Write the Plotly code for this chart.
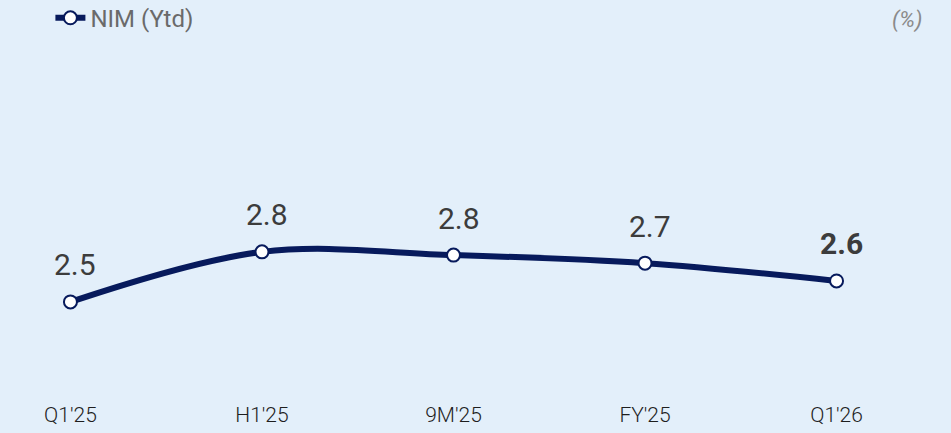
import plotly.graph_objects as go

categories = ["Q1'25", "H1'25", "9M'25", "FY'25", "Q1'26"]
nim_values = [2.47, 2.78, 2.76, 2.71, 2.60]
series_name = "NIM (Ytd)"
unit_label = "(%)"

NAVY = "#071a5c"
BG = "#e3effa"

fig = go.Figure()
fig.add_trace(go.Scatter(
    x=categories, y=nim_values, name=series_name, mode="lines+markers",
    line=dict(color=NAVY, width=6, shape="spline", smoothing=1),
    marker=dict(size=13, color="white", line=dict(color=NAVY, width=2)),
    showlegend=True, cliponaxis=False,
))

for i, (c, v) in enumerate(zip(categories, nim_values)):
    txt = f"{v:.1f}"
    last = i == len(categories) - 1
    fig.add_annotation(
        x=c, y=v, text=f"<b>{txt}</b>" if last else txt, showarrow=False,
        yshift=37, xshift=5,
        font=dict(family="Roboto, sans-serif", size=30, color="#3c3c3c"),
    )

fig.add_annotation(
    xref="paper", yref="paper", x=1.034, y=1.057, xanchor="right", yanchor="middle",
    text=f"<i>{unit_label}</i>", showarrow=False,
    font=dict(family="Roboto, sans-serif", size=22, color="#8a8a8a"),
)

fig.update_layout(
    width=951, height=433,
    paper_bgcolor=BG, plot_bgcolor=BG,
    margin=dict(l=13, r=57, t=40, b=40, autoexpand=False),
    xaxis=dict(type="category", range=[-0.3, 4.3], showgrid=False, zeroline=False,
               showline=False, ticks="", ticklabelstandoff=7,
               tickfont=dict(family="Roboto, sans-serif", weight=300,
                             size=21, color="#1e1e1e")),
    yaxis=dict(range=[1.906, 4.092], visible=False),
    legend=dict(orientation="h", x=0.053, y=0.958, xref="container", yref="container",
                xanchor="left", yanchor="middle",
                font=dict(family="Roboto, sans-serif", size=24, color="#6a6a6a"),
                bgcolor="rgba(0,0,0,0)", itemwidth=30),
    showlegend=True,
)

fig.write_html("out.html", config={"displayModeBar": False},
               post_script="document.body.style.margin='0';document.body.style.background='#e3effa';")
